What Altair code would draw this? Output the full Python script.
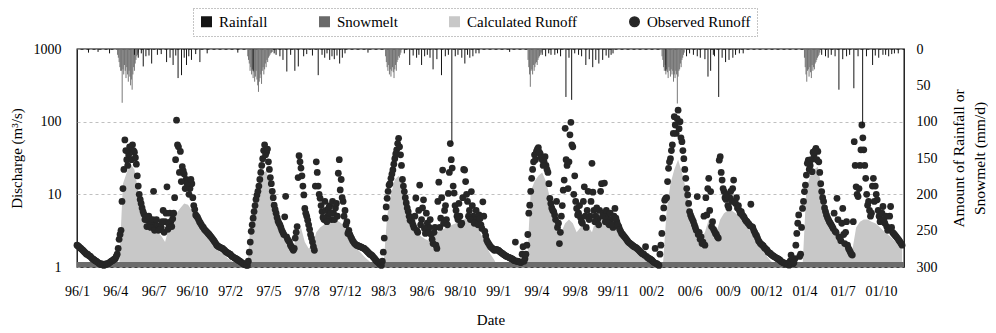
import altair as alt
import pandas as pd

FONT = "Liberation Serif"

# ---------------- axis ticks ----------------
x_tick_days = [0, 100, 200, 300, 400, 500, 600, 700, 800, 900, 1000,
               1100, 1200, 1300, 1400, 1500, 1600, 1700, 1800, 1900, 2000, 2100]
x_tick_labels = ["96/1", "96/4", "96/7", "96/10", "97/2", "97/5", "97/8", "97/12",
                 "98/3", "98/6", "98/10", "99/1", "99/4", "99/8", "99/11", "00/2",
                 "00/6", "00/9", "00/12", "01/4", "01/7", "01/10"]
q_ticks = [1, 10, 100, 1000]
rain_ticks = [0, 50, 100, 150, 200, 250, 300]

YEAR_LEN = 365
OBS_STEP = 5
MID_OFFSET = 2.5
CALC_STEP = 10
SNOW_STEP = 2

# ---------------- observed runoff (m3/s), one value every 5 days ----------------
obs_1996 = [2.0, 1.9, 1.8, 1.7, 1.6, 1.5, 1.45, 1.4, 1.3, 1.25,
            1.2, 1.15, 1.1, 1.1, 1.05, 1.1, 1.1, 1.15, 1.2, 1.25,
            1.3, 1.5, 2.4, 3.2, 12, 56, 30, 35, 42, 48,
            38, 26, 13, 8.5, 6.5, 5.3, 4.8, 4.4, 4.1, 3.9,
            11, 3.8, 3.7, 3.6, 3.5, 6.0, 4.2, 12.7, 3.8, 4.2,
            4.6, 9.0, 105, 45, 39, 24, 19, 16, 13, 12,
            14, 7.0, 5.2, 4.8, 4.2, 3.8, 3.5, 3.2, 3.0, 2.8,
            2.6, 2.4, 2.2]
obs_1997 = [2.0, 1.9, 1.85, 1.8, 1.7, 1.6, 1.55, 1.5, 1.4, 1.35,
            1.3, 1.25, 1.2, 1.15, 1.1, 1.08, 1.05, 1.6, 3.1, 4.7,
            7.0, 9.8, 13, 20, 31, 48, 38, 28, 17, 11,
            7.1, 5.5, 4.3, 3.8, 3.2, 2.8, 9.4, 2.4, 2.2, 1.9,
            1.7, 2.5, 3.6, 34, 23, 13, 6.4, 5.0, 3.8, 2.8,
            2.2, 1.7, 28, 13, 8.8, 5.8, 4.5, 6.0, 5.0, 7.0,
            4.5, 5.5, 6.5, 5.0, 30, 16, 8.0, 6.0, 4.2, 3.2,
            2.6, 2.3, 2.1]
obs_1998 = [2.0, 1.95, 1.9, 1.85, 1.8, 1.7, 1.6, 1.5, 1.45, 1.35,
            1.25, 1.18, 1.1, 1.05, 1.6, 4.7, 8.8, 13.4, 16.6, 21.7,
            31, 41, 59, 35, 16, 10.9, 7.6, 5.8, 4.4, 4.2,
            3.5, 8.9, 3.0, 13.4, 4.5, 8.4, 2.9, 4.0, 3.5, 2.8,
            2.1, 3.5, 1.8, 14.7, 4.7, 21.6, 6.0, 4.5, 10.3, 50,
            23, 10.4, 6.0, 4.5, 5.0, 4.0, 22, 15, 8.0, 6.0,
            10.9, 5.0, 4.5, 4.0, 5.2, 3.8, 7.9, 3.1, 2.35, 2.1,
            1.9, 1.8, 1.7]
obs_1999 = [1.75, 1.7, 1.62, 1.55, 1.48, 1.42, 1.38, 1.34, 1.3, 1.25,
            2.2, 1.2, 1.18, 1.15, 1.9, 1.3, 2.0, 5.5, 11, 22,
            35, 39, 44, 36, 30, 28, 25, 20, 8.8, 6.5,
            5.8, 4.5, 3.5, 2.1, 5.0, 11.4, 81, 25, 28, 98,
            45, 18, 6.4, 5.5, 4.8, 4.0, 12.7, 3.5, 11, 5.0,
            26.7, 6.0, 5.0, 4.5, 6.0, 14, 5.5, 4.2, 5.0, 3.8,
            4.5, 3.5, 6.4, 4.2, 3.6, 3.1, 2.8, 2.6, 2.4, 2.2,
            2.1, 2.0, 1.9]
obs_2000 = [1.85, 1.75, 1.65, 1.55, 1.5, 1.9, 1.35, 1.3, 1.25, 1.18,
            1.8, 1.1, 1.05, 2.0, 4.7, 8.3, 9.0, 22.8, 31, 48,
            117, 69, 144, 100, 53, 31, 16.6, 9.8, 5.8, 4.8,
            4.2, 3.5, 9.3, 3.0, 2.6, 2.2, 2.0, 5.2, 16.6, 10.9,
            4.2, 3.1, 2.8, 2.5, 33, 15.7, 10.9, 8.5, 7.0, 9.0,
            8.0, 15.7, 7.5, 6.5, 6.0, 5.8, 5.0, 4.5, 4.2, 3.9,
            7.3, 3.5, 3.0, 2.7, 2.3, 2.1, 2.0, 1.85, 1.75, 1.6,
            1.55, 1.46, 1.4]
obs_2001 = [1.35, 1.3, 1.25, 1.18, 1.15, 1.12, 1.1, 1.06, 1.46, 1.1,
            1.3, 2.9, 5.2, 1.5, 6.4, 10.9, 18.4, 29.5, 25, 20.5,
            35, 43, 39, 20, 10.9, 8.0, 5.8, 4.8, 4.2, 3.8,
            3.4, 3.1, 8.8, 2.6, 2.3, 6.4, 2.1, 4.2, 1.8, 1.6,
            1.46, 53, 12.7, 9.3, 25, 90, 41, 16.6, 7.1, 6.0,
            5.5, 16.6, 13, 8.4, 5.0, 4.5, 6.8, 4.0, 3.6, 3.4,
            6.8, 3.0, 2.8, 2.6, 2.4, 2.2, 2.0]

# observed runoff read between the points above (2.5 days later)
obs_mid_1996 = [1.95, 1.85, 1.75, 1.65, 1.55, 1.5, 1.42, 1.35, 1.28, 1.22,
                1.18, 1.12, 1.1, 1.08, 1.08, 1.1, 1.12, 1.18, 1.22, 1.28,
                1.4, 1.8, 2.8, 8.0, 22, 40, 25, 45, 30, 40,
                32, 18, 10, 7.5, 5.8, 4.5, 3.6, 5.0, 3.5, 4.5,
                3.2, 4.5, 3.2, 3.3, 4.2, 3.0, 5.5, 3.3, 5.5, 3.6,
                5.5, 30, 48, 20, 15, 21, 12, 14, 10, 16,
                9, 6.2, 5.0, 4.5, 4.0, 3.6, 3.3, 3.1, 2.9, 2.7,
                2.5, 2.3, 2.1]
obs_mid_1997 = [1.95, 1.88, 1.82, 1.75, 1.65, 1.58, 1.52, 1.45, 1.38, 1.32,
                1.28, 1.22, 1.18, 1.12, 1.1, 1.06, 1.2, 2.2, 3.8, 5.8,
                8.5, 11, 16, 25, 40, 35, 42, 22, 14, 9,
                6.2, 4.8, 4.0, 3.5, 3.0, 4.9, 2.6, 2.3, 2.0, 1.8,
                1.8, 3.0, 17, 28, 18, 9.8, 5.5, 4.4, 3.3, 2.5,
                1.9, 13, 20, 10, 7, 4.8, 8, 4.2, 6.5, 5.5,
                8, 4.5, 7.5, 19.5, 11.5, 9, 5, 3.8, 2.9, 2.8,
                2.45, 2.2, 2.05]
obs_mid_1998 = [1.98, 1.92, 1.88, 1.82, 1.75, 1.65, 1.55, 1.48, 1.4, 1.3,
                1.2, 1.14, 1.08, 1.2, 2.5, 6.7, 11, 14, 19, 26,
                36, 50, 45, 25, 13, 9, 6.5, 5, 4.8, 3.8,
                5, 3.2, 6, 3.8, 6.5, 3.4, 5.5, 3.0, 4.5, 2.4,
                3.0, 2.0, 8, 3.5, 9, 4.0, 7, 3.8, 20, 30,
                13, 7, 5, 7.5, 3.8, 9, 21.6, 10, 5, 4.5,
                7, 4, 6, 3.8, 4.6, 3.4, 5, 2.7, 2.2, 2.0,
                1.85, 1.75, 1.72]
obs_mid_1999 = [1.72, 1.66, 1.58, 1.52, 1.45, 1.4, 1.36, 1.32, 1.28, 1.22,
                1.2, 1.19, 1.16, 1.5, 1.2, 1.5, 2.8, 7.1, 16.6, 28,
                30, 42, 38, 32, 25, 33, 22, 14, 7.5, 6,
                5.2, 8, 4.0, 3, 7, 15.7, 30, 12, 66, 48,
                10, 8, 5.2, 7, 4.2, 8, 5, 6, 4.5, 8,
                10.7, 4.2, 6.5, 3.8, 11, 5, 14.3, 6, 4, 5.5,
                3.8, 5, 4.7, 3.8, 3.3, 2.9, 2.7, 2.5, 2.3, 2.15,
                2.05, 1.95, 1.88]
obs_mid_2000 = [1.8, 1.7, 1.6, 1.52, 1.45, 1.4, 1.32, 1.28, 1.22, 1.15,
                1.12, 1.08, 1.5, 2.9, 6.5, 8.8, 15, 28, 40, 69,
                90, 110, 80, 60, 40, 22, 12, 7.5, 5.2, 4.5,
                3.8, 3.2, 2.8, 2.4, 2.1, 5, 9, 12, 6, 3.6,
                3.3, 2.9, 2.6, 29.5, 20, 12, 9, 10, 6.5, 11,
                12, 8, 9, 7, 5.5, 5.2, 4.8, 4.3, 4.0, 3.7,
                3.6, 3.2, 2.8, 2.5, 2.2, 2.05, 1.95, 1.8, 1.7, 1.58,
                1.5, 1.43, 1.38]
obs_mid_2001 = [1.32, 1.28, 1.22, 1.16, 1.13, 1.1, 1.08, 1.2, 1.3, 1.15,
                2.0, 4.0, 1.4, 3.5, 8, 13.4, 26.7, 22, 30, 38,
                40, 30, 28, 14, 9, 6.5, 5.2, 4.5, 4.0, 3.6,
                5.5, 3.0, 4.5, 2.5, 4.0, 2.8, 3.0, 2.0, 1.7, 1.5,
                4.2, 25, 10, 12, 41, 60, 25, 10, 8, 5,
                13, 8, 10, 6, 4.2, 5.5, 4.5, 5, 3.2, 5,
                3.5, 2.9, 2.7, 2.5, 2.3, 2.1]

# ---------------- calculated runoff (m3/s), one value every 10 days ----------------
calc_1996 = [1, 1, 1, 1, 1, 1, 1, 1, 1, 1,
             1, 1, 14, 20, 26, 22, 11, 6, 4.5, 3.6,
             3.2, 3.0, 2.7, 2.2, 3.5, 4.5, 5.5, 6.5, 7.5, 7.2,
             6.0, 5.0, 4.0, 3.3, 2.7, 2.3, 2.0]
calc_1997 = [1.8, 1.6, 1.45, 1.3, 1.2, 1.12, 1.06, 1.02, 1.0, 5.5,
             9, 14, 20, 21, 12, 6.5, 4.5, 3.2, 2.6, 2.2,
             1.9, 2.7, 3.5, 2.2, 1.8, 2.0, 3.0, 3.5, 3.8, 4.0,
             4.2, 4.4, 4.2, 3.8, 3.0, 2.4, 2.0]
calc_1998 = [1.8, 1.6, 1.4, 1.25, 1.12, 1.05, 1.0, 1.0, 5.0, 10,
             16, 18, 12, 5.0, 3.8, 3.2, 2.9, 2.6, 2.4, 2.3,
             2.9, 3.0, 3.2, 3.4, 3.6, 3.8, 4.0, 4.3, 4.5, 4.7,
             4.5, 4.0, 3.2, 2.5, 1.9, 1.5, 1.25]
calc_1999 = [1.1, 1.05, 1.0, 1.0, 1.0, 1.0, 1.0, 1.0, 1.0, 11,
             15, 18, 20, 15, 9, 6, 3.6, 3.0, 4.0, 4.5,
             4.0, 3.0, 3.5, 4.0, 3.6, 3.0, 4.5, 5.0, 5.0, 4.5,
             4.0, 3.4, 3.0, 2.6, 2.2, 1.9, 1.75]
calc_2000 = [1.6, 1.45, 1.3, 1.2, 1.1, 1.05, 1.0, 1.0, 6.0, 14,
             22, 30, 20, 12, 6.5, 4.0, 2.9, 2.5, 3.0, 4.5,
             4.0, 3.0, 4.5, 5.5, 6.0, 6.0, 5.5, 5.0, 4.2, 3.6,
             3.0, 2.5, 2.0, 1.7, 1.45, 1.25, 1.1]
calc_2001 = [1.05, 1.0, 1.0, 1.0, 1.0, 1.0, 1.0, 1.0, 12, 18,
             22, 24, 12, 6.5, 4.5, 3.6, 3.0, 2.5, 2.2, 2.0,
             1.7, 3.5, 4.2, 4.5, 4.5, 4.2, 4.0, 3.6, 3.2, 2.9,
             2.6, 2.3, 2.1, 1.9]

# ---------------- snowmelt (mm/d): start day, one value every 2 days ----------------
snow_1996_start = 106
snow_1996 = [8, 12, 18, 25, 30, 30, 74, 28, 35, 22, 30, 40, 25, 35,
             45, 30, 38, 50, 42, 56, 35, 25, 30, 20, 15, 10, 8, 5]
snow_1997_start = 446
snow_1997 = [10, 15, 20, 30, 25, 35, 28, 40, 32, 45, 38, 30, 42, 50, 59, 45, 40,
             35, 48, 30, 25, 35, 28, 20, 25, 15, 18, 12, 10, 8, 6, 5, 4]
snow_1998_start = 806
snow_1998 = [10, 18, 25, 30, 22, 35, 28, 38, 30, 25, 32, 40, 28, 22, 30, 18,
             15, 10, 12, 8, 5]
snow_1999_start = 1178
snow_1999 = [15, 25, 35, 52, 30, 28, 35, 22, 30, 25, 20, 18, 22, 15, 12, 10, 8, 5]
snow_2000_start = 1528
snow_2000 = [10, 15, 25, 30, 22, 35, 28, 32, 40, 25, 30, 38, 28, 35, 30, 45, 35,
             40, 30, 35, 75, 38, 30, 28, 20, 25, 15, 12, 8, 5]
snow_2001_start = 1900
snow_2001 = [12, 25, 35, 45, 30, 28, 38, 25, 32, 40, 22, 30, 25, 28, 20, 18,
             15, 12, 10, 8, 5]

# ---------------- rainfall events (day index, mm/d) ----------------
rain_days = [30, 55, 85, 150, 160, 168, 173, 180, 188, 195, 210, 220, 234, 243, 251, 258,
             264, 273, 280, 286, 292, 299, 310, 321, 340,
             420, 460, 515, 520, 530, 538, 548, 558, 569, 578, 592, 600, 615, 630, 640,
             647, 653, 660, 666, 672, 679, 686, 693, 700,
             760, 855, 869, 878, 887, 893, 900, 908, 915, 922, 930, 940, 952, 962, 970,
             979, 988, 995, 1005, 1013, 1020, 1026, 1034, 1042, 1050,
             1130, 1215, 1224, 1232, 1238, 1248, 1255, 1263, 1277, 1285, 1292, 1300, 1310,
             1318, 1329, 1338, 1347, 1355, 1363, 1373, 1382, 1389, 1395, 1400,
             1538, 1592, 1600, 1610, 1620, 1628, 1640, 1648, 1655, 1662, 1665, 1676, 1685,
             1694, 1703, 1713, 1720, 1730, 1740,
             1945, 1955, 1962, 1970, 1980, 1990, 2000, 2010, 2018, 2029, 2040, 2052, 2062,
             2078, 2085, 2094, 2105, 2112, 2120, 2128, 2135, 2145]
rain_mm = [5, 4, 6, 8, 12, 6, 24, 10, 9, 20, 8, 7, 18, 12, 22, 9,
           40, 36, 12, 22, 10, 15, 7, 18, 6,
           5, 30, 6, 8, 10, 15, 31, 8, 30, 24, 10, 7, 9, 36, 8,
           12, 6, 15, 10, 14, 9, 20, 12, 6,
           5, 6, 22, 9, 12, 8, 22, 10, 8, 12, 28, 14, 36, 10, 8,
           130, 10, 8, 12, 20, 8, 12, 10, 6, 6,
           4, 8, 10, 6, 8, 8, 6, 10, 66, 12, 70, 6, 8,
           10, 22, 14, 25, 15, 20, 15, 9, 12, 8, 6,
           30, 10, 6, 8, 10, 12, 14, 38, 30, 8, 10, 66, 12,
           18, 15, 12, 8, 6, 6,
           8, 10, 12, 8, 10, 56, 14, 10, 8, 54, 10, 105, 10,
           22, 9, 12, 8, 8, 10, 7, 6, 6]

baseline_band = 1.17
x_domain = [0, 2160]

# ---------------- tables ----------------
obs_years = [obs_1996, obs_1997, obs_1998, obs_1999, obs_2000, obs_2001]
obs_mid_years = [obs_mid_1996, obs_mid_1997, obs_mid_1998, obs_mid_1999,
                 obs_mid_2000, obs_mid_2001]
calc_years = [calc_1996, calc_1997, calc_1998, calc_1999, calc_2000, calc_2001]
snow_sets = [(snow_1996_start, snow_1996), (snow_1997_start, snow_1997),
             (snow_1998_start, snow_1998), (snow_1999_start, snow_1999),
             (snow_2000_start, snow_2000), (snow_2001_start, snow_2001)]


def yearly_frame(years, step, series, offset=0.0):
    rows = []
    for k, vals in enumerate(years):
        for i, v in enumerate(vals):
            rows.append({"day": YEAR_LEN * k + step * i + offset, "value": v, "series": series})
    return pd.DataFrame(rows)


obs_df = pd.concat([yearly_frame(obs_years, OBS_STEP, "Observed Runoff"),
                    yearly_frame(obs_mid_years, OBS_STEP, "Observed Runoff", MID_OFFSET)],
                   ignore_index=True)
calc_df = yearly_frame(calc_years, CALC_STEP, "Calculated Runoff")
snow_rows = []
for start, vals in snow_sets:
    for i, v in enumerate(vals):
        snow_rows.append({"day": start + SNOW_STEP * i, "value": v, "series": "Snowmelt"})
snow_df = pd.DataFrame(snow_rows)
rain_df = pd.DataFrame({"day": rain_days, "value": rain_mm, "series": "Rainfall"})
band_df = pd.DataFrame({"day": x_domain, "value": [baseline_band, baseline_band]})

# ---------------- scales / axes ----------------
series_domain = ["Rainfall", "Snowmelt", "Calculated Runoff", "Observed Runoff"]
series_colors = ["#151515", "#6a6a6a", "#c8c8c8", "#262626"]
series_shapes = ["square", "square", "square", "circle"]

legend_def = alt.Legend(title=None, orient="none", legendX=116, legendY=-41,
                        direction="horizontal", columnPadding=48, labelFont=FONT,
                        labelFontSize=15, labelColor="black", symbolSize=90,
                        labelOffset=5, padding=6, strokeColor="#8a8a8a")
color_enc = alt.Color("series:N", scale=alt.Scale(domain=series_domain, range=series_colors),
                      legend=legend_def)
shape_enc = alt.Shape("series:N", scale=alt.Scale(domain=series_domain, range=series_shapes),
                      legend=legend_def)

label_expr = "[" + ",".join("'%s'" % s for s in x_tick_labels) + "][round(datum.value/100)]"
x_enc = alt.X("day:Q", scale=alt.Scale(domain=x_domain, nice=False, zero=False),
              axis=alt.Axis(values=x_tick_days, labelExpr=label_expr, title="Date",
                            ticks=False, domain=False, grid=False, labelFlush=False,
                            labelOverlap=False, labelPadding=17, titlePadding=14,
                            labelFontSize=14, titleFontSize=15))

q_scale = alt.Scale(type="log", domain=[1, 1000], nice=False)
q_axis = alt.Axis(values=q_ticks, format="d", title="Discharge (m³/s)", ticks=False,
                  domain=False, labelPadding=16, grid=True, gridDash=[3, 3],
                  gridColor="#b0b0b0", gridWidth=0.8, titlePadding=9,
                  labelFontSize=14, titleFontSize=15)
q_enc = alt.Y("value:Q", scale=q_scale, axis=q_axis)

r_scale = alt.Scale(domain=[0, 300], reverse=True, nice=False, zero=True)
r_axis = alt.Axis(orient="right", values=rain_ticks, ticks=False, domain=False, grid=False,
                  labelPadding=12, title=["Amount of Rainfall or", "Snowmelt (mm/d)"],
                  titleAngle=270, titleBaseline="top", titlePadding=-7,
                  titleLineHeight=21, labelFontSize=14, titleFontSize=15.5)
r_enc = alt.Y("value:Q", scale=r_scale, axis=r_axis)

# ---------------- layers ----------------
calc_layer = alt.Chart(calc_df).mark_area(opacity=1).encode(
    x=x_enc, y=q_enc, y2=alt.datum(1), color=color_enc)
band_layer = alt.Chart(band_df).mark_area(color="#6c6c6c", opacity=1).encode(
    x=x_enc, y=q_enc, y2=alt.datum(1))
obs_layer = alt.Chart(obs_df).mark_point(filled=True, size=46, opacity=1, strokeWidth=0).encode(
    x=x_enc, y=q_enc, color=color_enc, shape=shape_enc)
left = alt.layer(calc_layer, band_layer, obs_layer)

rain_layer = alt.Chart(rain_df).mark_rule(strokeWidth=1).encode(
    x=x_enc, y=r_enc, y2=alt.datum(0), color=color_enc)
snow_layer = alt.Chart(snow_df).mark_rule(strokeWidth=0.9).encode(
    x=x_enc, y=r_enc, y2=alt.datum(0), color=color_enc)
right = alt.layer(snow_layer, rain_layer)

chart = alt.layer(left, right).resolve_scale(y="independent").properties(
    width=827, height=218,
    autosize=alt.AutoSizeParams(type="none"),
    padding={"left": 69, "top": 41, "right": 84, "bottom": 64},
).configure_axis(
    labelFont=FONT, titleFont=FONT, labelColor="black", titleColor="black",
    titleFontWeight="normal",
).configure_legend(
    strokeDash=[1, 2],
).configure_view(stroke="black", strokeWidth=1.3)

chart.save("out.html", embed_options={"renderer": "svg", "actions": False})
